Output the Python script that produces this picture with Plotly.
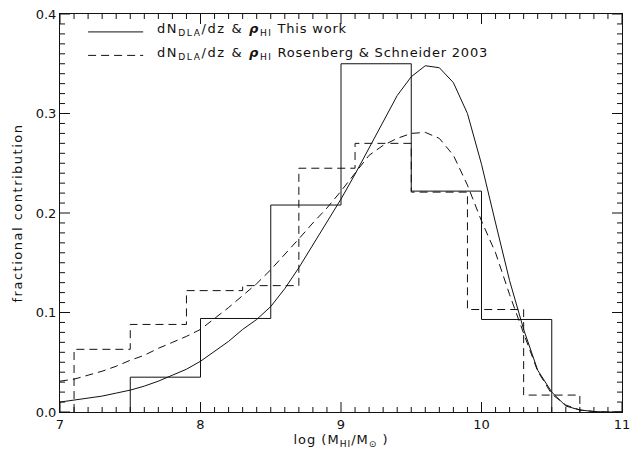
import plotly.graph_objects as go

# Histogram: this work (bin edges and fractional contribution)
hist1_edges = [7.5, 8.0, 8.5, 9.0, 9.5, 10.0, 10.5]
hist1_values = [0.035, 0.094, 0.208, 0.350, 0.222, 0.093]

# Histogram: Rosenberg & Schneider 2003
hist2_edges = [7.1, 7.5, 7.9, 8.3, 8.7, 9.1, 9.5, 9.9, 10.3, 10.7]
hist2_values = [0.063, 0.088, 0.122, 0.127, 0.245, 0.270, 0.221, 0.103, 0.017]

# Model curves
curve_x = [7.0, 7.1, 7.2, 7.3, 7.4, 7.5, 7.6, 7.7, 7.8, 7.9,
           8.0, 8.1, 8.2, 8.3, 8.4, 8.5, 8.6, 8.7, 8.8, 8.9,
           9.0, 9.1, 9.2, 9.3, 9.4, 9.5, 9.6, 9.7, 9.8, 9.9,
           10.0, 10.1, 10.2, 10.3, 10.4, 10.5, 10.6, 10.7, 10.8, 10.9, 11.0]
curve1_y = [0.010, 0.012, 0.014, 0.016, 0.019, 0.022, 0.026, 0.031, 0.037, 0.043,
            0.051, 0.061, 0.071, 0.083, 0.093, 0.106, 0.124, 0.145, 0.168, 0.192,
            0.214, 0.239, 0.265, 0.291, 0.318, 0.337, 0.348, 0.346, 0.331, 0.300,
            0.249, 0.190, 0.132, 0.083, 0.042, 0.020, 0.006, 0.002, 0.0005, 0.0, 0.0]
curve2_y = [0.031, 0.033, 0.037, 0.041, 0.046, 0.052, 0.057, 0.064, 0.070, 0.076,
            0.083, 0.094, 0.105, 0.117, 0.129, 0.143, 0.158, 0.174, 0.190, 0.205,
            0.222, 0.240, 0.258, 0.268, 0.275, 0.280, 0.281, 0.275, 0.258, 0.228,
            0.192, 0.160, 0.118, 0.079, 0.041, 0.018, 0.007, 0.002, 0.0005, 0.0, 0.0]

x_range = [7, 11]
y_range = [0, 0.4]
x_ticks = [7, 8, 9, 10, 11]
y_ticks = [0.0, 0.1, 0.2, 0.3, 0.4]
x_minor_step = 0.1
y_minor_step = 0.01

SP = '<span style="letter-spacing:1.6px">'
SP2 = '<span style="letter-spacing:0.8px">'
legend_labels = [
    SP + "dN<sub>DLA</sub>/dz &amp; <b><i>ρ</i></b><sub>HI</sub></span>" + SP2 + " This work</span>",
    SP + "dN<sub>DLA</sub>/dz &amp; <b><i>ρ</i></b><sub>HI</sub></span>" + SP2 + " Rosenberg &amp; Schneider 2003</span>",
]
x_title = '<span style="letter-spacing:1px">log (M<sub>HI</sub>/M<sub>⊙</sub> )</span>'
y_title = '<span style="letter-spacing:1.5px">fractional contribution</span>'

FONT = "DejaVu Sans"
FS = 13
DASH = "8px,5px"
INK = "#111111"

W, H = 631, 455
ML, MR, MT, MB = 60, 9, 14, 43
PW, PH = W - ML - MR, H - MT - MB
MAJ_LEN, MIN_LEN = 10, 5


def step_xy(edges, values):
    xs = [edges[0]] + list(edges)
    ys = [0.0] + list(values) + [0.0]
    return xs, ys


fig = go.Figure()
x1, y1 = step_xy(hist1_edges, hist1_values)
fig.add_trace(go.Scatter(x=x1, y=y1, mode="lines", line=dict(color=INK, width=1, shape="hv"),
                         showlegend=False, hoverinfo="skip"))
x2, y2 = step_xy(hist2_edges, hist2_values)
fig.add_trace(go.Scatter(x=x2, y=y2, mode="lines", line=dict(color=INK, width=1, shape="hv", dash=DASH),
                         showlegend=False, hoverinfo="skip"))
fig.add_trace(go.Scatter(x=curve_x, y=curve1_y, mode="lines", line=dict(color=INK, width=1),
                         showlegend=False))
fig.add_trace(go.Scatter(x=curve_x, y=curve2_y, mode="lines", line=dict(color=INK, width=1, dash=DASH),
                         showlegend=False))

# legend drawn manually
leg_y = [0.955, 0.896]
leg_dash = ["solid", DASH]
for yy, lab, dsh in zip(leg_y, legend_labels, leg_dash):
    fig.add_shape(type="line", xref="paper", yref="paper", x0=0.050, x1=0.148, y0=yy, y1=yy,
                  line=dict(color=INK, width=1, dash=dsh))
    fig.add_annotation(xref="paper", yref="paper", x=0.169, y=yy + 0.006, text=lab, showarrow=False,
                       xanchor="left", yanchor="middle", font=dict(family=FONT, size=FS, color=INK))

# inward ticks on all four sides (major + minor)
tick_line = dict(color=INK, width=1)
n_xm = int(round((x_range[1] - x_range[0]) / x_minor_step))
for i in range(n_xm + 1):
    v = x_range[0] + i * x_minor_step
    ln = MAJ_LEN if any(abs(v - t) < 1e-9 for t in x_ticks) else MIN_LEN
    f = ln / PH
    fig.add_shape(type="line", xref="x", yref="paper", x0=v, x1=v, y0=0, y1=f, line=tick_line, layer="above")
    fig.add_shape(type="line", xref="x", yref="paper", x0=v, x1=v, y0=1, y1=1 - f, line=tick_line, layer="above")
n_ym = int(round((y_range[1] - y_range[0]) / y_minor_step))
for i in range(n_ym + 1):
    v = y_range[0] + i * y_minor_step
    ln = MAJ_LEN if any(abs(v - t) < 1e-9 for t in y_ticks) else MIN_LEN
    f = ln / PW
    fig.add_shape(type="line", xref="paper", yref="y", x0=0, x1=f, y0=v, y1=v, line=tick_line, layer="above")
    fig.add_shape(type="line", xref="paper", yref="y", x0=1, x1=1 - f, y0=v, y1=v, line=tick_line, layer="above")

fig.update_xaxes(range=x_range, tickvals=x_ticks, ticktext=[str(t) for t in x_ticks],
                 showline=True, linecolor=INK, linewidth=1, mirror=True, ticks="",
                 showgrid=False, zeroline=False,
                 tickfont=dict(family=FONT, size=FS, color=INK),
                 title=dict(text=x_title, font=dict(family=FONT, size=FS, color=INK), standoff=4))
fig.update_yaxes(range=y_range, tickvals=y_ticks, ticktext=[f"{t:.1f}" for t in y_ticks],
                 showline=True, linecolor=INK, linewidth=1, mirror=True, ticks="",
                 showgrid=False, zeroline=False,
                 tickfont=dict(family=FONT, size=FS, color=INK),
                 title=dict(text=y_title, font=dict(family=FONT, size=FS, color=INK), standoff=10))

fig.update_layout(
    width=W, height=H, margin=dict(l=ML, r=MR, t=MT, b=MB, autoexpand=False),
    paper_bgcolor="white", plot_bgcolor="white",
    font=dict(family=FONT, size=FS, color=INK),
)

fig.write_html("out.html")
